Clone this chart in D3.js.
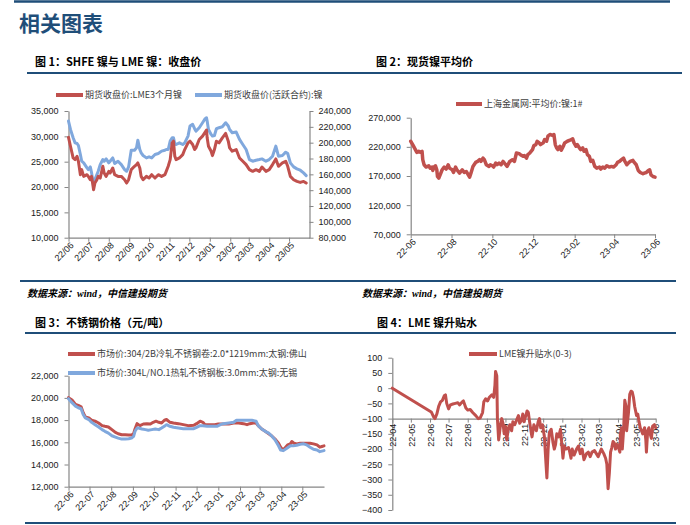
<!DOCTYPE html>
<html><head><meta charset="utf-8">
<script src="https://cdn.jsdelivr.net/npm/d3@7"></script>
<style>body{margin:0;background:#fff}svg{display:block}</style>
</head><body><svg id="c" width="690" height="525"></svg>
<script>
// ---------------- DATA ----------------
// Panel 1: SHFE vs LME nickel close (day offsets from start date)
const p1Start = "2022-06-01";
const p1Days = [0,3,7,10,13,15,18,20,23,28,30,33,35,38,40,43,45,48,52,54,57,61,63,67,70,75,80,85,88,91,95,100,103,105,108,110,113,118,122,126,131,136,141,146,148,151,154,157,159,161,163,168,173,176,181,184,188,191,193,198,203,207,209,210,212,216,218,221,224,228,233,238,242,244,248,254,259,264,269,274,279,284,289,293,299,304,309,314,318,324,329,332,336,341,346,351,356,360];
const lme3M = [29800,28050,25740,25410,26070,25080,22430,23430,22100,22430,22100,21440,22100,19460,20780,21440,22100,21770,24090,22760,22100,23090,22760,23760,22430,22100,22100,21440,20780,21440,23430,24090,24420,24750,23760,22100,21440,22100,21770,22430,21770,22430,22100,22430,23090,24090,25410,28720,29050,26070,25410,25740,26400,27390,28720,29050,28390,27390,27720,29380,30040,30830,31230,29710,28050,27060,26200,27390,29050,28720,29710,30570,29050,27720,27060,27390,25740,25080,24420,23430,23090,23430,23090,23950,23090,23430,24420,25540,24090,24750,25080,24090,22100,21440,21110,20910,21110,20780];
const shfeActive = [227300,216700,206200,199800,199000,196400,185000,176600,174500,168100,166000,169400,161800,144900,153300,159700,163900,172300,178700,176600,179500,174500,176600,180800,173600,176600,172300,166000,163900,169400,190500,190500,193500,203200,191400,187200,183800,180800,182100,180800,185000,186300,189300,190500,191400,191400,202000,206200,206200,199000,197700,199800,197700,199800,208300,221000,223100,217600,214600,218900,225200,230300,231500,227300,216700,210400,208300,209100,217600,218900,220100,225200,221000,216700,212500,213400,204100,197700,191400,178700,176600,177800,178700,179500,176600,178700,182900,195600,182900,183800,188000,186300,174500,169400,166900,165200,161800,158400];
const p1XTicks = ["22/06","22/07","22/08","22/09","22/10","22/11","22/12","23/01","23/02","23/03","23/04","23/05"];
const p1LeftTicks = [10000,15000,20000,25000,30000,35000];
const p1RightTicks = [80000,100000,120000,140000,160000,180000,200000,220000,240000];

// Panel 2: spot nickel average price
const p2Start = "2022-06-01";
const p2Days = [0,3,7,9,12,15,17,18,20,23,27,29,32,33,35,37,39,40,42,44,47,50,53,56,58,62,64,67,69,73,77,80,83,86,88,90,93,97,100,103,105,108,110,113,117,119,122,124,127,129,132,135,138,142,144,148,152,155,158,162,164,168,170,173,175,178,182,184,187,189,192,194,198,200,203,205,208,212,214,216,218,220,223,225,228,230,234,238,242,244,247,249,252,254,257,259,262,264,267,269,272,275,278,282,284,287,290,293,297,300,303,307,309,312,315,318,320,323,325,328,332,334,337,340,343,347,349,352,355,357,359,362,365];
const smmAvg = [229600,223900,215200,210600,212400,210600,212400,198000,189300,185300,187600,183500,185300,179500,185300,187600,180700,169100,166200,172000,180700,185300,181800,189300,183500,180700,176000,185300,180700,174900,180700,176000,177800,172000,168000,174900,186400,193300,195000,198000,195000,200800,198000,189300,186400,189300,187600,185300,192200,189300,192200,189300,195000,189300,186400,195000,198000,195000,209500,208300,206600,203700,204900,200800,206600,209500,215200,222200,223900,229600,226800,223900,226800,232500,229600,238300,241200,239500,241200,223900,218100,215200,221000,214100,221000,226800,229600,231400,233700,226800,221000,223900,218100,215200,218100,212400,215200,206600,203700,195000,196800,186400,183500,185300,181800,185300,183500,187600,185300,186400,185300,189300,193300,195000,198000,200800,195000,189300,192200,195000,196800,193300,189300,179500,176000,173800,174900,176000,179500,180700,172000,169100,168000];
const p2XTicks = ["22-06","22-08","22-10","22-12","23-02","23-04","23-06"];
const p2YTicks = [70000,120000,170000,220000,270000];

// Panel 3: stainless steel prices
const p3Start = "2022-06-01";
const p3RedDays = [0,5,10,14,18,21,24,29,33,38,43,48,52,57,62,67,71,76,81,86,90,93,95,98,100,102,107,112,117,121,125,129,133,137,140,145,150,157,164,171,179,183,188,192,195,202,209,214,221,229,236,243,250,255,259,264,268,271,276,281,286,290,295,300,303,306,309,313,317,319,322,326,331,336,340,345,350,355,359,362,365];
const coldRolled304 = [20020,19810,19420,19330,19200,18660,18290,18200,17990,17900,17740,17500,17440,17380,17140,16890,16770,16680,16680,16650,16650,16770,17200,17680,17590,17500,17650,17680,17650,17800,17900,17800,17740,17990,18050,17800,17740,17680,17590,17500,17530,17680,17900,17800,17590,17590,17590,17650,17650,17650,17740,17740,17680,17590,17680,17740,17740,17500,17200,16990,16770,16590,16290,15920,15560,15310,15460,15770,15860,16070,15920,15860,15920,15920,15920,15920,15860,15770,15560,15620,15680];
const p3BlueDays = [0,5,10,14,18,21,24,29,33,38,43,48,52,57,62,67,71,76,81,86,90,93,95,98,100,105,110,114,119,124,129,133,138,140,145,150,157,164,171,179,183,188,192,198,205,212,217,221,229,236,240,248,255,262,268,271,276,281,286,290,295,300,303,307,312,317,321,326,331,336,340,345,350,355,359,365];
const hotRolled304L = [19930,19570,19260,19110,19020,18500,18200,18050,17800,17590,17380,17140,16990,16830,16590,16470,16380,16290,16290,16320,16380,16530,16990,17290,17290,17200,17140,17080,17140,17200,17140,17290,17500,17590,17440,17350,17290,17230,17230,17230,17350,17500,17500,17440,17440,17440,17590,17680,17740,17800,17990,17990,17990,17990,17900,17500,17200,16990,16830,16590,16230,15680,15310,15250,15460,15680,15680,15740,15830,15860,15770,15560,15370,15310,15160,15250];
const p3XTicks = ["22-06","22-07","22-08","22-09","22-10","22-11","22-12","23-01","23-02","23-03","23-04","23-05"];
const p3YTicks = [12000,14000,16000,18000,20000,22000];

// Panel 4: LME nickel contango/backwardation (0-3)
const p4Start = "2022-04-01";
const p4Days = [0,63,67,69,72,75,78,81,84,86,88,91,94,98,102,106,109,113,115,119,122,126,130,135,139,142,146,148,151,154,157,161,164,166,167,169,170,172,175,177,179,181,183,185,188,190,193,195,198,201,204,206,209,211,213,216,218,220,222,225,226,229,231,233,236,238,240,243,246,248,250,252,254,257,260,262,264,266,269,272,274,276,278,281,285,287,289,291,294,298,301,304,307,310,314,317,320,323,327,330,333,336,338,342,345,347,349,351,353,355,357,359,361,363,365,368,369,371,372,374,376,378,379,382,384,386,388,390,392,395,397,399,401,403,405,408,410,411,413,415,417,419,421,424,426];
const lmeSpread = [0,-78,-95,-100,-85,-60,-45,-40,-25,-22,-50,-68,-55,-52,-50,-48,-55,-45,-42,-65,-72,-70,-80,-90,-100,-98,-80,-45,-35,-42,-30,-22,-30,10,55,40,-100,-170,-120,-100,-115,-150,-125,-170,-130,-120,-140,-110,-120,-105,-90,-115,-105,-85,-110,-90,-75,-80,-110,-150,-160,-120,-130,-140,-110,-100,-130,-120,-160,-230,-295,-200,-145,-135,-180,-200,-185,-150,-160,-135,-180,-230,-190,-200,-195,-210,-230,-200,-220,-200,-190,-215,-200,-235,-215,-210,-225,-210,-205,-215,-225,-210,-200,-215,-230,-250,-330,-280,-210,-195,-175,-180,-200,-185,-190,-210,-150,-130,-200,-140,-40,-60,-140,-80,-20,-10,-12,-30,-60,-90,-85,-110,-130,-140,-150,-130,-170,-210,-140,-130,-150,-165,-125,-120,-130];
const p4XTicks = ["22-04","22-05","22-06","22-07","22-08","22-09","22-10","22-11","22-12","23-01","23-02","23-03","23-04","23-05","23-06"];
const p4YTicks = [-400,-350,-300,-250,-200,-150,-100,-50,0,50,100];

// ---------------- DRAW ----------------
const RED = "#C0504D", BLUE = "#80A8DD", NAVY = "#1F4E79", AXIS = "#868686";
const TICKFONT = "'Liberation Sans', Arial, sans-serif";
const CJK = "'Noto Sans CJK SC', sans-serif";
const svg = d3.select("#c");
const parseD = d3.timeParse("%Y-%m-%d");
const series = (start, days, vals) => days.map((d, i) => ({date: d3.timeDay.offset(parseD(start), d), v: vals[i]}));

// Page decoration
svg.append("rect").attr("width", 690).attr("height", 525).attr("fill", "#fff");
function hline(y, x1, x2, w) {
  svg.append("line").attr("x1", x1).attr("x2", x2).attr("y1", y).attr("y2", y)
    .attr("stroke", NAVY).attr("stroke-width", w);
}
hline(1.5, 14, 670, 2.5);
svg.append("text").attr("x", 19).attr("y", 31).text("相关图表")
  .attr("font-family", CJK).attr("font-weight", "bold").attr("font-size", 21).attr("fill", NAVY);
function heading(x, y, t) {
  svg.append("text").attr("x", x).attr("y", y).text(t)
    .attr("font-family", CJK).attr("font-weight", "bold").attr("font-size", 11).attr("fill", "#000");
}
heading(35, 66, "图 1：SHFE 镍与 LME 镍：收盘价");
heading(376, 66, "图 2：现货镍平均价");
hline(73, 27, 682, 2);
hline(281, 20, 676, 2);
function source(x, y) {
  const t = svg.append("text").attr("x", x).attr("y", y)
    .attr("font-family", CJK).attr("font-weight", "bold").attr("font-style", "italic").attr("font-size", 10).attr("fill", "#000");
  t.append("tspan").text("数据来源：");
  t.append("tspan").text("wind").attr("font-family", "'Liberation Serif', serif");
  t.append("tspan").text("，中信建投期货");
}
source(27, 297);
source(362, 297);
heading(35, 327, "图 3：不锈钢价格（元/吨）");
heading(377, 327, "图 4：LME 镍升贴水");
hline(333, 25, 676, 2);
hline(523, 25, 676, 2);

function styleAxis(g) {
  g.select(".domain").attr("stroke", AXIS).attr("stroke-width", 1.2);
  g.selectAll(".tick line").attr("stroke", AXIS).attr("stroke-width", 1);
  g.selectAll("text").attr("font-family", TICKFONT).attr("font-size", 9).attr("fill", "#1a1a1a");
}
function legend(x1, x2, y, color, label) {
  svg.append("line").attr("x1", x1).attr("x2", x2).attr("y1", y).attr("y2", y)
    .attr("stroke", color).attr("stroke-width", 4);
  svg.append("text").attr("x", x2 + 2).attr("y", y).attr("dy", "0.35em").text(label)
    .attr("font-family", CJK).attr("font-size", 9).attr("fill", "#404040");
}
function drawLine(data, x, y, color, w) {
  svg.append("path").datum(data)
    .attr("d", d3.line().x(d => x(d.date)).y(d => y(d.v)))
    .attr("fill", "none").attr("stroke", color).attr("stroke-width", w)
    .attr("stroke-linejoin", "round").attr("stroke-linecap", "round");
}
const fmt = d3.format(",");

// ---- Panel 1 ----
{
  const pm = d3.timeParse("%y/%m");
  const x = d3.scaleTime().domain([parseD("2022-06-01"), parseD("2023-06-01")]).range([68.5, 309.5]);
  const yL = d3.scaleLinear().domain([10000, 35000]).range([237.7, 111]);
  const yR = d3.scaleLinear().domain([80000, 240000]).range([237.7, 111]);
  const gx = svg.append("g").attr("transform", "translate(0,237.7)")
    .call(d3.axisBottom(x).tickValues(p1XTicks.map(pm)).tickFormat(d3.timeFormat("%y/%m")).tickSize(4).tickSizeOuter(0));
  gx.selectAll("text").attr("y", 0).attr("x", 0).attr("dy", "0.35em").attr("text-anchor", "end")
    .attr("transform", "translate(3,6) rotate(-45)");
  styleAxis(gx);
  const gl = svg.append("g").attr("transform", "translate(68.5,0)")
    .call(d3.axisLeft(yL).tickValues(p1LeftTicks).tickFormat(fmt).tickSize(4).tickPadding(6).tickSizeOuter(0));
  styleAxis(gl);
  const gr = svg.append("g").attr("transform", "translate(309.5,0)")
    .call(d3.axisRight(yR).tickValues(p1RightTicks).tickFormat(fmt).tickSize(4).tickPadding(5).tickSizeOuter(0));
  styleAxis(gr);
  drawLine(series(p1Start, p1Days, shfeActive), x, yR, BLUE, 3);
  drawLine(series(p1Start, p1Days, lme3M), x, yL, RED, 3);
  legend(56, 83, 95, RED, "期货收盘价:LME3个月镍");
  legend(195, 222, 95, BLUE, "期货收盘价(活跃合约):镍");
}

// ---- Panel 2 ----
{
  const pm = d3.timeParse("%y-%m");
  const x = d3.scaleTime().domain([parseD("2022-06-01"), parseD("2023-06-01")]).range([410.7, 655]);
  const y = d3.scaleLinear().domain([70000, 270000]).range([234.3, 117.7]);
  const gx = svg.append("g").attr("transform", "translate(0,234.3)")
    .call(d3.axisBottom(x).tickValues(p2XTicks.map(pm)).tickFormat(d3.timeFormat("%y-%m")).tickSize(4).tickSizeOuter(0));
  gx.selectAll("text").attr("y", 0).attr("x", 0).attr("dy", "0.35em").attr("text-anchor", "end")
    .attr("transform", "translate(3,6) rotate(-45)");
  styleAxis(gx);
  const gy = svg.append("g").attr("transform", "translate(410.7,0)")
    .call(d3.axisLeft(y).tickValues(p2YTicks).tickFormat(fmt).tickSize(4).tickPadding(6).tickSizeOuter(0));
  styleAxis(gy);
  drawLine(series(p2Start, p2Days, smmAvg), x, y, RED, 3.5);
  legend(456, 482, 104, RED, "上海金属网:平均价:镍:1#");
}

// ---- Panel 3 ----
{
  const pm = d3.timeParse("%y-%m");
  const x = d3.scaleTime().domain([parseD("2022-06-01"), parseD("2023-06-01")]).range([68.5, 324]);
  const y = d3.scaleLinear().domain([12000, 22000]).range([486.7, 375.7]);
  const gx = svg.append("g").attr("transform", "translate(0,486.7)")
    .call(d3.axisBottom(x).tickValues(p3XTicks.map(pm)).tickFormat(d3.timeFormat("%y-%m")).tickSize(4).tickSizeOuter(0));
  gx.selectAll("text").attr("y", 0).attr("x", 0).attr("dy", "0.35em").attr("text-anchor", "end")
    .attr("transform", "translate(3,6) rotate(-45)");
  styleAxis(gx);
  const gy = svg.append("g").attr("transform", "translate(68.5,0)")
    .call(d3.axisLeft(y).tickValues(p3YTicks).tickFormat(fmt).tickSize(4).tickPadding(6).tickSizeOuter(0));
  styleAxis(gy);
  drawLine(series(p3Start, p3RedDays, coldRolled304), x, y, RED, 3);
  drawLine(series(p3Start, p3BlueDays, hotRolled304L), x, y, BLUE, 3);
  legend(68, 95, 354, RED, "市场价:304/2B冷轧不锈钢卷:2.0*1219mm:太钢:佛山");
  legend(68, 95, 373, BLUE, "市场价:304L/NO.1热轧不锈钢板:3.0mm:太钢:无锡");
}

// ---- Panel 4 ----
{
  const pm = d3.timeParse("%y-%m");
  const x = d3.scaleTime().domain([parseD("2022-04-01"), parseD("2023-06-01")]).range([392.3, 655.7]);
  const y = d3.scaleLinear().domain([-400, 100]).range([510, 357.7]);
  const gy = svg.append("g").attr("transform", "translate(392.3,0)")
    .call(d3.axisLeft(y).tickValues(p4YTicks).tickFormat(d3.format("d")).tickSize(4).tickPadding(6).tickSizeOuter(0));
  styleAxis(gy);
  const gx = svg.append("g").attr("transform", `translate(0,${y(-100)})`)
    .call(d3.axisBottom(x).tickValues(p4XTicks.map(pm)).tickFormat(d3.timeFormat("%y-%m")).tickSize(4).tickSizeOuter(0));
  gx.selectAll("text").attr("y", 0).attr("x", 0).attr("dy", "0.35em").attr("text-anchor", "end")
    .attr("transform", "translate(0,5) rotate(-90)");
  styleAxis(gx);
  drawLine(series(p4Start, p4Days, lmeSpread), x, y, RED, 3);
  legend(469, 497, 354, RED, "LME镍升贴水(0-3)");
}
</script></body></html>
